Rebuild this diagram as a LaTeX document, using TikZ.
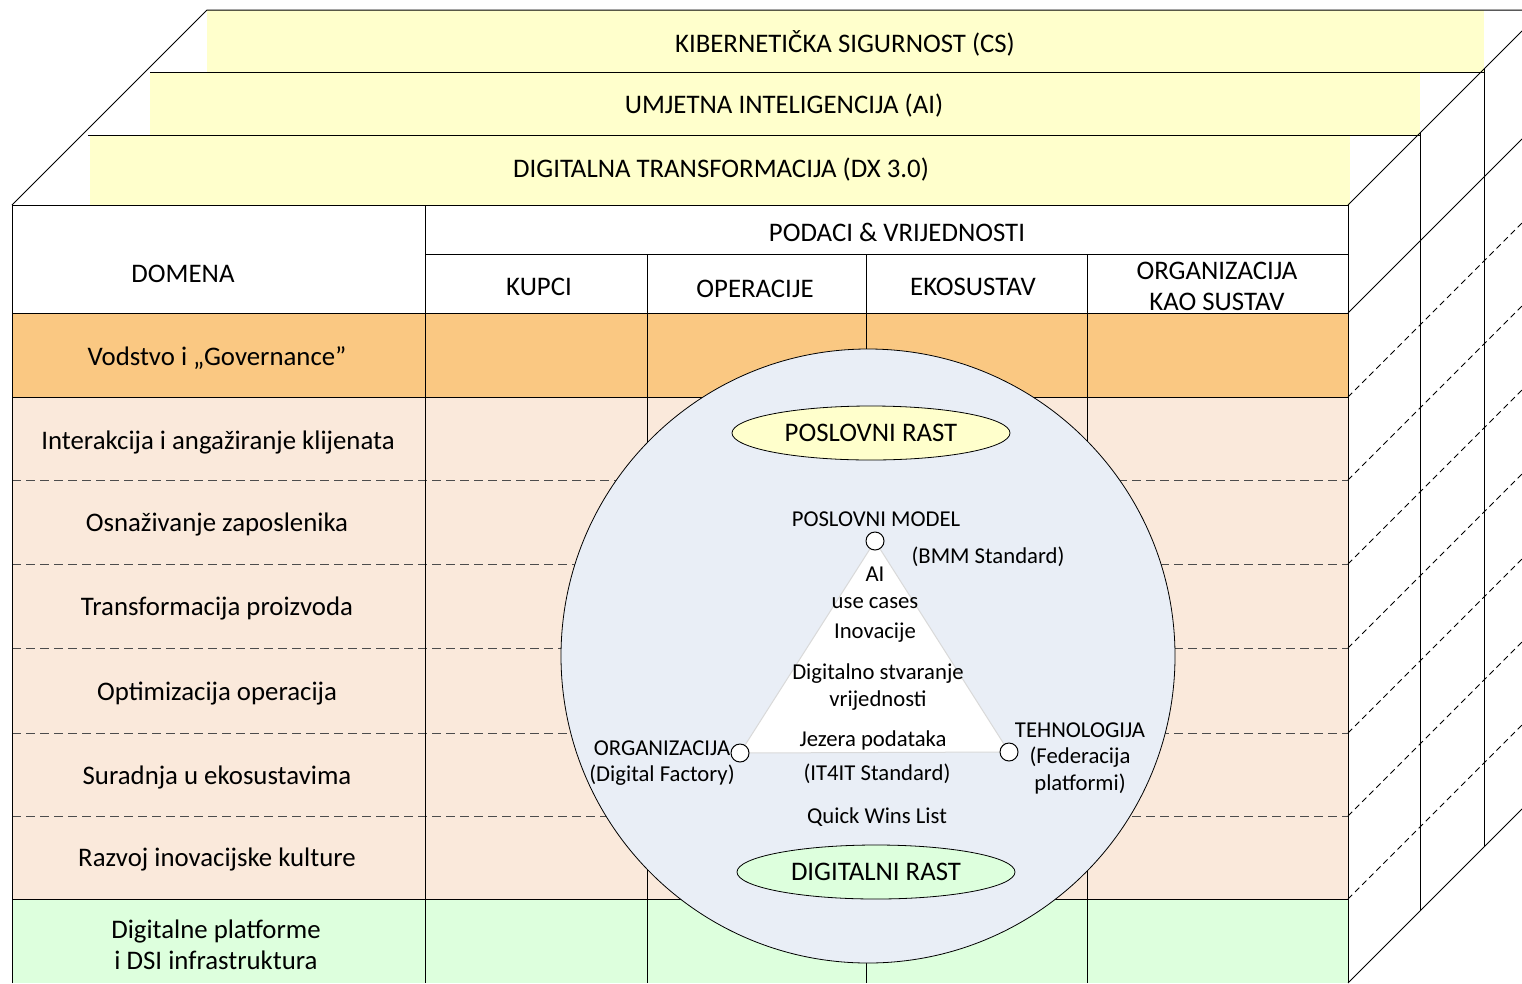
\documentclass[tikz,border=0pt]{standalone}
\usepackage{fontspec}
\setmainfont{Carlito}
\usetikzlibrary{shapes.geometric}
\definecolor{bandyellow}{RGB}{255,255,204}
\definecolor{govorange}{RGB}{250,200,130}
\definecolor{rowpeach}{RGB}{250,233,219}
\definecolor{rowgreen}{RGB}{221,255,221}
\definecolor{hubfill}{RGB}{233,238,246}
\begin{document}
\begin{tikzpicture}[x=1pt,y=-1pt,
  edge/.style={draw=black, line width=1pt},
  rowsep/.style={draw=black!70, line width=1pt, dash pattern=on 9pt off 5pt},
  sidedash/.style={draw=black, line width=0.8pt, dash pattern=on 6pt off 4pt},
  big/.style={font=\fontsize{26.8}{31}\selectfont, align=center, inner sep=0pt, yshift=-2pt},
  small/.style={font=\fontsize{22.7}{26.5}\selectfont, align=center, inner sep=0pt, yshift=-2pt},
  vertex/.style={circle, draw=black, fill=white, minimum size=18pt, inner sep=0pt, line width=1pt},
  growth/.style={ellipse, draw=black, line width=0.8pt, minimum width=278pt, minimum height=54pt, inner sep=0pt, font=\fontsize{26.8}{31}\selectfont}
]
\useasboundingbox (0,0) rectangle (1522,983);

% stepped layers on top of the cube
\fill[bandyellow] (207,10) rectangle (1484,72);
\fill[bandyellow] (150,72) rectangle (1420,135);
\fill[bandyellow] (90,135) rectangle (1350,205);
\draw[edge] (12,205) -- (207,10) -- (1522,10);
\draw[edge] (150,72) -- (1484,72);
\draw[edge] (88,135) -- (1420,135);
\node[big] (cs) at (845,41) {KIBERNETIČKA SIGURNOST (CS)};
\node[big] (ai) at (784,104) {UMJETNA INTELIGENCIJA (AI)};
\node[big] (dx) at (721,168) {DIGITALNA TRANSFORMACIJA (DX 3.0)};

% front face: row fills
\fill[white] (12,205) rectangle (1348,313);
\fill[govorange] (12,313) rectangle (1348,397);
\fill[rowpeach] (12,397) rectangle (1348,899);
\fill[rowgreen] (12,899) rectangle (1348,983);
\foreach \y in {480,564,648,733,816} \draw[rowsep] (12,\y) -- (1348,\y);

% front face: grid
\draw[edge] (12,983) -- (12,205) -- (1348,205) -- (1348,983);
\draw[edge] (425,254) -- (1348,254);
\foreach \y in {313,397,899} \draw[edge] (12,\y) -- (1348,\y);
\draw[edge] (425,205) -- (425,983);
\foreach \x in {647,866,1087} \draw[edge] (\x,254) -- (\x,983);

% right face of the cube
\draw[edge] (1348,205) -- (1522,31);
\draw[edge] (1348,313) -- (1522,139);
\foreach \y in {397,480,564,648,733,816,899} \draw[sidedash] (1348,\y) -- (1522,\y-174);
\draw[edge] (1348,983) -- (1522,809);
\draw[edge] (1420,133) -- (1420,911);
\draw[edge] (1484,69) -- (1484,847);

% header texts
\node[big] (domena) at (183,272) {DOMENA};
\node[big] (podaci) at (897,230) {PODACI \& VRIJEDNOSTI};
\node[big] (kupci) at (539,285) {KUPCI};
\node[big] (oper) at (755,287) {OPERACIJE};
\node[big] (eko) at (973,285) {EKOSUSTAV};
\node[big] (orgsys) at (1217,284) {ORGANIZACIJA\\KAO SUSTAV};

% domain rows
\node[big] (gov) at (217,356) {Vodstvo i „Governance”};
\node[big] (d1) at (218,440) {Interakcija i angažiranje klijenata};
\node[big] (d2) at (217,522) {Osnaživanje zaposlenika};
\node[big] (d3) at (217,606) {Transformacija proizvoda};
\node[big] (d4) at (217,692) {Optimizacija operacija};
\node[big] (d5) at (217,775) {Suradnja u ekosustavima};
\node[big] (d6) at (217,857) {Razvoj inovacijske kulture};
\node[big] (d7) at (216,943) {Digitalne platforme\\i DSI infrastruktura};

% central circle
\node[circle, draw=black, fill=hubfill, minimum size=614pt, inner sep=0pt, line width=0.8pt] (hub) at (868,656) {};
\node[growth, fill=bandyellow] (prast) at (871,433) {POSLOVNI RAST};
\node[growth, fill=rowgreen] (drast) at (876,872) {DIGITALNI RAST};

% triangle of business model, organisation and technology
\coordinate (tm) at (875,541);
\coordinate (to) at (740,753);
\coordinate (tt) at (1009,752);
\draw[draw=black!15, fill=white, line width=1pt] (tm) -- (to) -- (tt) -- cycle;
\node[vertex] (vm) at (tm) {};
\node[vertex] (vo) at (to) {};
\node[vertex] (vt) at (tt) {};

\node[small] (pm) at (876,517) {POSLOVNI MODEL};
\node[small] (bmm) at (988,555) {(BMM Standard)};
\node[small] (uc) at (875,586) {AI\\use cases};
\node[small] (ino) at (875,631) {Inovacije};
\node[small] (dsv) at (878,685) {Digitalno stvaranje\\vrijednosti};
\node[small] (jez) at (873,738) {Jezera podataka};
\node[small] (it4) at (877,772) {(IT4IT Standard)};
\node[small] (qw) at (877,815) {Quick Wins List};
\node[small] (org) at (662,761) {ORGANIZACIJA\\(Digital Factory)};
\node[small] (teh) at (1080,756) {TEHNOLOGIJA\\(Federacija\\platformi)};
\end{tikzpicture}
\end{document}
